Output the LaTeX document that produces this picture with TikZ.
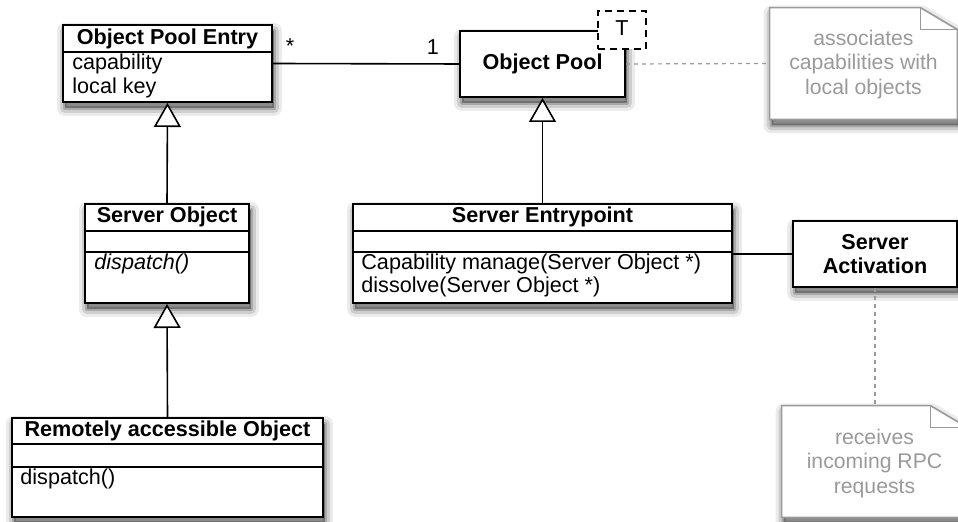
\documentclass[tikz,border=0pt]{standalone}
\usepackage{fontspec}
\setmainfont{Liberation Sans}
\usetikzlibrary{fit,arrows.meta}

\newcommand{\umlfont}{\fontsize{10.8}{12.5}\selectfont}
\definecolor{notegray}{HTML}{9A9A9A}

\tikzset{
  % soft drop shadow built from stacked translucent strokes
  shadowlayer/.style={draw=black, fill=black, opacity=#1, line join=round,
      transform canvas={xshift=1pt, yshift=-3pt}},
  boxshadow/.style={
      preaction={shadowlayer=0.08, line width=8pt},
      preaction={shadowlayer=0.12, line width=5pt},
      preaction={shadowlayer=0.18, line width=2pt}},
  umlbox/.style={draw=black, line width=1pt, fill=white, inner sep=0pt, boxshadow},
  divider/.style={draw=black, line width=0.8pt},
  title/.style={font=\umlfont\bfseries, inner sep=0pt, text height=8pt, text depth=2.3pt},
  member/.style={font=\umlfont, inner sep=0pt, anchor=west, text height=8pt, text depth=2.3pt},
  label/.style={font=\umlfont, inner sep=0pt, text height=8pt, text depth=2.3pt},
  assoc/.style={draw=black, line width=0.8pt},
  inherit/.style={draw=black, line width=0.8pt,
      -{Triangle[fill=white, length=12pt, width=13.5pt]}},
  tmpl/.style={draw=black, line width=0.9pt, dash pattern=on 3.5pt off 2.5pt,
      fill=white, inner sep=0pt},
  notebox/.style={draw=notegray, line width=0.8pt, fill=white, boxshadow},
  notefold/.style={draw=notegray, line width=0.8pt},
  notelink/.style={draw=notegray, line width=0.6pt, dash pattern=on 2pt off 2pt},
  notetext/.style={text=notegray, align=center, inner sep=0pt,
      font=\fontsize{10.6}{12.2}\selectfont},
}

\begin{document}
\begin{tikzpicture}[x=0.5pt,y=-0.5pt]
\useasboundingbox (0,0) rectangle (958,522);

% ---- Object Pool Entry ----
\node[umlbox, fit={(63,25) (272,102)}] (ope) {};
\draw[divider] (ope.west |- 0,52) -- (ope.east |- 0,52);
\node[title] (opeT) at (167.5,39) {Object Pool Entry};
\node[member] (opeA) at (72,64) {capability};
\node[member] (opeB) at (72,88) {local key};

% ---- Object Pool (template class) ----
\node[umlbox, fit={(460,31) (625,97)}] (pool) {};
\node[title] (poolT) at (pool.center) {Object Pool};
\node[tmpl, fit={(598,11) (646,49)}] (tparam) {};
\node[label] (tparamT) at (tparam.center) {T};

% ---- Server Object ----
\node[umlbox, fit={(85,204) (249,303)}] (so) {};
\draw[divider] (so.west |- 0,231) -- (so.east |- 0,231);
\draw[divider] (so.west |- 0,252) -- (so.east |- 0,252);
\node[title] (soT) at (167,217) {Server Object};
\node[member, font=\umlfont\itshape] (soM) at (94,264) {dispatch()};

% ---- Server Entrypoint ----
\node[umlbox, fit={(353,204) (732,303)}] (sep) {};
\draw[divider] (sep.west |- 0,231) -- (sep.east |- 0,231);
\draw[divider] (sep.west |- 0,252) -- (sep.east |- 0,252);
\node[title] (sepT) at (542.5,217) {Server Entrypoint};
\node[member] (sepA) at (361,264) {Capability manage(Server Object *)};
\node[member] (sepB) at (361,287) {dissolve(Server Object *)};

% ---- Server Activation ----
\node[umlbox, fit={(793,221) (957,287)}] (sa) {};
\node[title, align=center, text height=, text depth=,
      font=\fontsize{10.8}{12.2}\selectfont\bfseries] (saT) at (sa.center)
      {Server\\Activation};

% ---- Remotely accessible Object ----
\node[umlbox, fit={(12,418) (323,517)}] (rao) {};
\draw[divider] (rao.west |- 0,444) -- (rao.east |- 0,444);
\draw[divider] (rao.west |- 0,467) -- (rao.east |- 0,467);
\node[title] (raoT) at (167.5,431) {Remotely accessible Object};
\node[member] (raoM) at (20,479) {dispatch()};

% ---- Notes ----
\node[fit={(770,8) (957,119)}, inner sep=0pt] (note1) {};
\path[notebox] (note1.north west) -- ([xshift=-18.5pt]note1.north east)
  -- ([yshift=-11pt]note1.north east) -- (note1.south east)
  -- (note1.south west) -- cycle;
\draw[notefold] ([xshift=-18.5pt]note1.north east)
  -- ([xshift=-18.5pt,yshift=-11pt]note1.north east)
  -- ([yshift=-11pt]note1.north east);
\node[notetext] (note1T) at ([yshift=-0.5pt]note1.center)
  {associates\\capabilities with\\local objects};

\node[fit={(782,406) (967,517)}, inner sep=0pt] (note2) {};
\path[notebox] (note2.north west) -- ([xshift=-18.5pt]note2.north east)
  -- ([yshift=-11pt]note2.north east) -- (note2.south east)
  -- (note2.south west) -- cycle;
\draw[notefold] ([xshift=-18.5pt]note2.north east)
  -- ([xshift=-18.5pt,yshift=-11pt]note2.north east)
  -- ([yshift=-11pt]note2.north east);
\node[notetext] (note2T) at ([yshift=-1pt]note2.center)
  {receives\\incoming RPC\\requests};

% ---- Connectors ----
\draw[assoc] (ope.east) -- (pool.west);
\node[label] (mstar) at (290,48) {*};
\node[label] (mone) at (433,49) {1};

\draw[inherit] (so.north) -- (ope.south);
\draw[inherit] (rao.north) -- (so.south);
\draw[inherit] (sep.north) -- (pool.south);
\draw[assoc] (sep.east |- sa.west) -- (sa.west);

\draw[notelink] (pool.east) -- (note1.west);
\draw[notelink] (sa.south) -- (sa.south |- note2.north);
\end{tikzpicture}
\end{document}
